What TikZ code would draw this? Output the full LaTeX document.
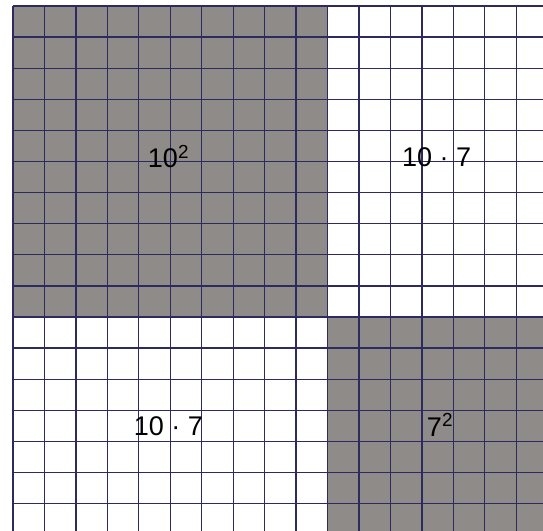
\documentclass[tikz,border=0pt]{standalone}
\usepackage{fontspec}
\setmainfont{Liberation Sans}
\definecolor{cellgray}{RGB}{142,139,136}
\definecolor{gridline}{RGB}{45,42,95}
\begin{document}
\begin{tikzpicture}[x=1pt,y=-1pt,
  lbl/.style={font=\fontsize{27}{32}\selectfont, inner sep=0pt, anchor=base, text=black},
  gridrule/.style={draw=gridline, line width=1.3pt}]
\useasboundingbox (0,0) rectangle (543,530);
\fill[white] (0,0) rectangle (543,530);
\begin{scope}
  \clip (0,0) rectangle (543,530);
  \fill[cellgray] (13,6) rectangle (327.5,317);
  \fill[cellgray] (327.5,317) rectangle (560,545);
  \foreach \i in {0,...,17}
    \draw[gridrule] ({13+31.45*\i},6) -- ({13+31.45*\i},545);
  \foreach \j in {0,...,17}
    \draw[gridrule] (13,{6+31.1*\j}) -- (560,{6+31.1*\j});
\end{scope}
\node[lbl] (tl) at (168.5,167.5) {10\textsuperscript{2}};
\node[lbl] (tr) at (436.7,166.7) {10 · 7};
\node[lbl] (bl) at (168.3,435.7) {10 · 7};
\node[lbl] (br) at (440,436) {7\textsuperscript{2}};
\end{tikzpicture}
\end{document}
